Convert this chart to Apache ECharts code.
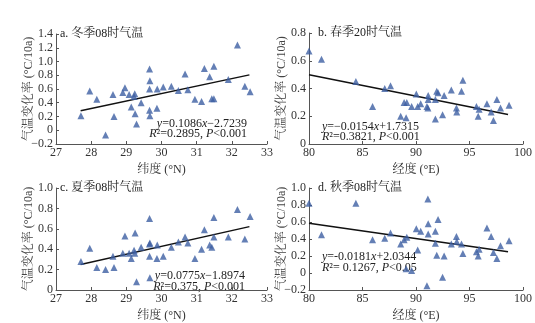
<!DOCTYPE html>
<html><head><meta charset="utf-8">
<script src="https://cdn.jsdelivr.net/npm/echarts@6/dist/echarts.min.js"></script>
<style>html,body{margin:0;background:#fff}#c{width:535px;height:323px}</style>
</head><body><div id="c"></div>
<script>
// station latitudes (panels a, c) and longitudes (panels b, d)
const latitudes = [27.71,27.96,28.16,28.41,28.62,28.65,28.90,28.96,29.08,29.14,29.22,29.24,29.25,29.29,29.42,29.66,29.67,29.66,29.66,29.67,29.87,29.88,30.05,30.28,30.48,30.67,30.75,30.95,31.14,31.22,31.37,31.43,31.49,31.49,31.90,32.16,32.37,32.52];
const winter08 = [0.21,0.57,0.45,-0.07,0.52,0.20,0.55,0.62,0.52,0.34,0.49,0.53,0.24,0.09,0.40,0.89,0.72,0.60,0.29,0.21,0.32,0.60,0.63,0.64,0.58,0.82,0.59,0.45,0.42,0.90,0.78,0.46,0.93,0.46,0.74,1.24,0.64,0.56];
const summer08 = [0.28,0.41,0.22,0.20,0.33,0.22,0.36,0.53,0.36,0.31,0.39,0.36,0.56,0.08,0.42,0.70,0.46,0.45,0.33,0.12,0.31,0.44,0.33,0.42,0.47,0.52,0.46,0.31,0.40,0.59,0.44,0.42,0.71,0.52,0.52,0.79,0.50,0.72];
const longitudes = [80.0,81.17,84.38,85.94,87.08,87.62,88.57,88.89,89.14,89.08,89.59,90.03,90.16,90.44,91.02,91.11,91.14,91.14,91.81,91.81,91.94,92.06,92.48,92.63,93.30,93.78,93.81,94.25,94.38,95.65,95.81,95.90,96.63,97.02,97.24,97.56,97.90,98.70];
const spring20 = [0.67,0.61,0.45,0.27,0.40,0.42,0.20,0.30,0.30,0.19,0.27,0.36,0.27,0.29,0.27,0.26,0.35,0.32,0.32,0.18,0.38,0.37,0.21,0.35,0.39,0.26,0.23,0.38,0.46,0.27,0.20,0.25,0.29,0.23,0.17,0.32,0.26,0.28];
const autumn08 = [0.82,0.45,0.82,0.39,0.41,0.47,0.34,0.39,0.42,0.05,0.03,0.52,0.27,0.49,-0.15,0.87,0.58,0.46,0.49,0.35,0.21,0.63,-0.05,0.20,0.34,0.43,0.37,0.34,0.23,0.25,0.20,0.28,0.53,0.43,0.24,0.17,0.32,0.38];

// regression coefficients [slope, intercept] and fitted x range
const fitA = [0.1086, -2.7239], rangeA = [27.7, 32.5];
const fitB = [-0.0154, 1.7315], rangeB = [80, 98.6];
const fitC = [0.0775, -1.8974], rangeC = [27.7, 32.5];
const fitD = [-0.0181, 2.0344], rangeD = [80, 98.6];

const panelTitles = ['a. 冬季08时气温','b. 春季20时气温','c. 夏季08时气温','d. 秋季08时气温'];
const eqLines = [
  ['{i|y}=0.1086{i|x}−2.7239', '{i|R}²=0.2895, {i|P}<0.001'],
  ['{i|y}=−0.0154{i|x}+1.7315', '{i|R}²=0.3821, {i|P}<0.001'],
  ['{i|y}=0.0775{i|x}−1.8974', '{i|R}²=0.375, {i|P}<0.001'],
  ['{i|y}=-0.0181{i|x}+2.0344', '{i|R}²= 0.1267, {i|P}<0.05']
];
const yName = '气温变化率 (°C/10a)';

const FONT = "'Liberation Serif','Noto Serif CJK SC','Noto Sans CJK SC',serif";
const AX = '#555';
const TXT = '#333';
const MARK = '#3d5fa3';

function pairs(xs, ys){ return xs.map((x,i)=>[x, ys[i]]); }
function fitLine(f, r){ return r.map(x=>[x, f[0]*x + f[1]]); }
function yFmt(v){ if (Math.abs(v) < 1e-9) return '0'; return (v<0?'−':'') + Math.abs(v).toFixed(1); }

const grids = [
  {left:56, top:34, width:211, height:110},
  {left:309, top:33, width:214, height:111},
  {left:56, top:188, width:211, height:108},
  {left:309, top:188, width:214, height:108}
];
const xCfg = [
  {min:27, max:33, interval:1, name:'纬度 (°N)'},
  {min:80, max:100, interval:5, name:'经度 (°E)'},
  {min:27, max:33, interval:1, name:'纬度 (°N)'},
  {min:80, max:100, interval:5, name:'经度 (°E)'}
];
const yCfg = [
  {min:-0.2, max:1.4, interval:0.2},
  {min:0, max:0.8, interval:0.2},
  {min:0, max:1.0, interval:0.2},
  {min:-0.2, max:1.0, interval:0.2}
];
const axisCommon = {
  axisLine:{show:true, onZero:false, lineStyle:{color:AX, width:1}},
  axisTick:{show:true, inside:true, length:3, lineStyle:{color:AX}},
  splitLine:{show:false}
};
const xAxis = xCfg.map((c,i)=>Object.assign({}, axisCommon, {
  type:'value', gridIndex:i, min:c.min, max:c.max, interval:c.interval,
  name:c.name, nameLocation:'middle', nameGap:20,
  nameTextStyle:{fontFamily:FONT, fontSize:12, color:TXT},
  axisLabel:{fontFamily:FONT, fontSize:12, color:TXT, margin:3}
}));
const yAxis = yCfg.map((c,i)=>Object.assign({}, axisCommon, {
  type:'value', gridIndex:i, min:c.min, max:c.max, interval:c.interval,
  name:yName, nameLocation:'middle', nameGap:21, nameRotate:90, nameMoveOverlap:false,
  nameTextStyle:{fontFamily:FONT, fontSize:12, color:'#444'},
  axisLabel:{fontFamily:FONT, fontSize:12, color:TXT, margin:3, formatter:yFmt}
}));

const scatterData = [pairs(latitudes, winter08), pairs(longitudes, spring20), pairs(latitudes, summer08), pairs(longitudes, autumn08)];
const fits = [fitLine(fitA, rangeA), fitLine(fitB, rangeB), fitLine(fitC, rangeC), fitLine(fitD, rangeD)];
const series = [];
for (let i=0;i<4;i++){
  series.push({type:'scatter', xAxisIndex:i, yAxisIndex:i, data:scatterData[i], symbol:'triangle', symbolSize:7, itemStyle:{color:MARK}, z:3});
  series.push({type:'line', xAxisIndex:i, yAxisIndex:i, data:fits[i], symbol:'none', lineStyle:{color:'#111', width:1.5}, z:2, silent:true});
}

const titlePos = [[60,28],[318,27],[60,182],[318,182]];
const eqPos = [
  {x:247, y:[124,134], align:'right'},
  {x:322, y:[127,137], align:'left'},
  {x:245, y:[276,287], align:'right'},
  {x:322, y:[257,268], align:'left'}
];
const rich = {i:{fontStyle:'italic', fontFamily:FONT, fontSize:12, color:'#222'}};
const graphic = [];
for (let i=0;i<4;i++){
  graphic.push({type:'text', left:titlePos[i][0], top:titlePos[i][1], style:{text:panelTitles[i], font:"12px "+FONT, fill:'#222'}});
  for (let k=0;k<2;k++){
    graphic.push({type:'text', x:eqPos[i].x, y:eqPos[i].y[k], style:{text:eqLines[i][k], rich:rich, fontFamily:FONT, fontSize:12, fill:'#222', align:eqPos[i].align, verticalAlign:'middle'}});
  }
}

const chart = echarts.init(document.getElementById('c'), null, {renderer:'canvas'});
chart.setOption({animation:false, backgroundColor:'#fff', grid:grids, xAxis:xAxis, yAxis:yAxis, series:series, graphic:graphic});
</script></body></html>
